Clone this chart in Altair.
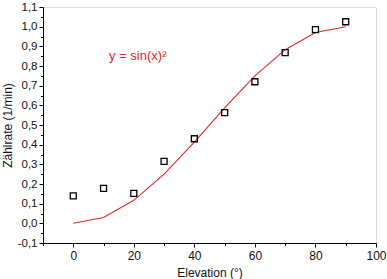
import altair as alt
import pandas as pd

elevation = [0, 10, 20, 30, 40, 50, 60, 70, 80, 90]
rate = [0.14, 0.178, 0.152, 0.315, 0.43, 0.563, 0.72, 0.868, 0.985, 1.025]
fit = [0.0, 0.03, 0.117, 0.25, 0.413, 0.587, 0.75, 0.883, 0.97, 1.0]

x_ticks = [-10, 0, 10, 20, 30, 40, 50, 60, 70, 80, 90, 100]
y_ticks = [-0.1, -0.05, 0.0, 0.05, 0.1, 0.15, 0.2, 0.25, 0.3, 0.35, 0.4, 0.45, 0.5,
           0.55, 0.6, 0.65, 0.7, 0.75, 0.8, 0.85, 0.9, 0.95, 1.0, 1.05, 1.1]

annot_text = ["y = sin(x)²"]
annot_x = [21.3]
annot_y = [0.853]

df = pd.DataFrame({"x": elevation, "rate": rate, "fit": fit})
ann = pd.DataFrame({"x": annot_x, "y": annot_y, "t": annot_text})

FONT = "Liberation Sans"
xs = alt.Scale(domain=[-10, 100], nice=False, zero=False)
ys = alt.Scale(domain=[-0.1, 1.1], nice=False, zero=False)

x_major = "abs(datum.value % 20) < 0.001"
y_major = "abs(round(datum.value * 20)) % 2 == 0"
x_lbl = f"{x_major} ? datum.label : ''"
y_lbl = (f"{y_major} ? "
         "replace(replace(format(datum.value, '.1f'), '.', ','), '\u2212', '-') : ''")

x_axis = alt.Axis(values=x_ticks, title="Elevation (°)", labelExpr=x_lbl,
                  tickSize={"condition": {"test": x_major, "value": 4}, "value": 2.5},
                  labelOverlap=False, labelBound=False, labelFlush=False,
                  labelPadding=3, titlePadding=6)
y_axis = alt.Axis(values=y_ticks, title="Zählrate (1/min)", labelExpr=y_lbl,
                  tickSize={"condition": {"test": y_major, "value": 4}, "value": 2.5},
                  labelOverlap=False, labelBound=False, labelFlush=False,
                  labelPadding=2, titlePadding=3)

line = alt.Chart(df).mark_line(color="#e0282c", strokeWidth=1.1).encode(
    x=alt.X("x:Q", scale=xs, axis=x_axis),
    y=alt.Y("fit:Q", scale=ys, axis=y_axis),
)
pts = alt.Chart(df).mark_point(shape="square", filled=False, color="black",
                               size=36, strokeWidth=1.3, opacity=1).encode(
    x=alt.X("x:Q", scale=xs, axis=x_axis),
    y=alt.Y("rate:Q", scale=ys, axis=y_axis),
)
txt = alt.Chart(ann).mark_text(color="#e0282c", font=FONT, fontSize=13).encode(
    x=alt.X("x:Q", scale=xs, axis=x_axis),
    y=alt.Y("y:Q", scale=ys, axis=y_axis),
    text="t:N",
)

chart = alt.layer(line, pts, txt).properties(
    width=333, height=236,
    autosize=alt.AutoSizeParams(type="none"),
    padding={"left": 43, "top": 7, "right": 11, "bottom": 36},
).configure_view(stroke=None).configure(background="white").configure_axis(
    grid=False, domain=True, ticks=True, tickColor="black",
    domainColor="black", labelColor="#111111", labelFont=FONT, labelFontSize=12,
    titleFont=FONT, titleFontSize=12, titleFontWeight="normal", titleColor="#111111",
).configure_axisY(labelFontSize=11.5)

chart.save("out.html", embed_options={"renderer": "svg", "actions": False})
